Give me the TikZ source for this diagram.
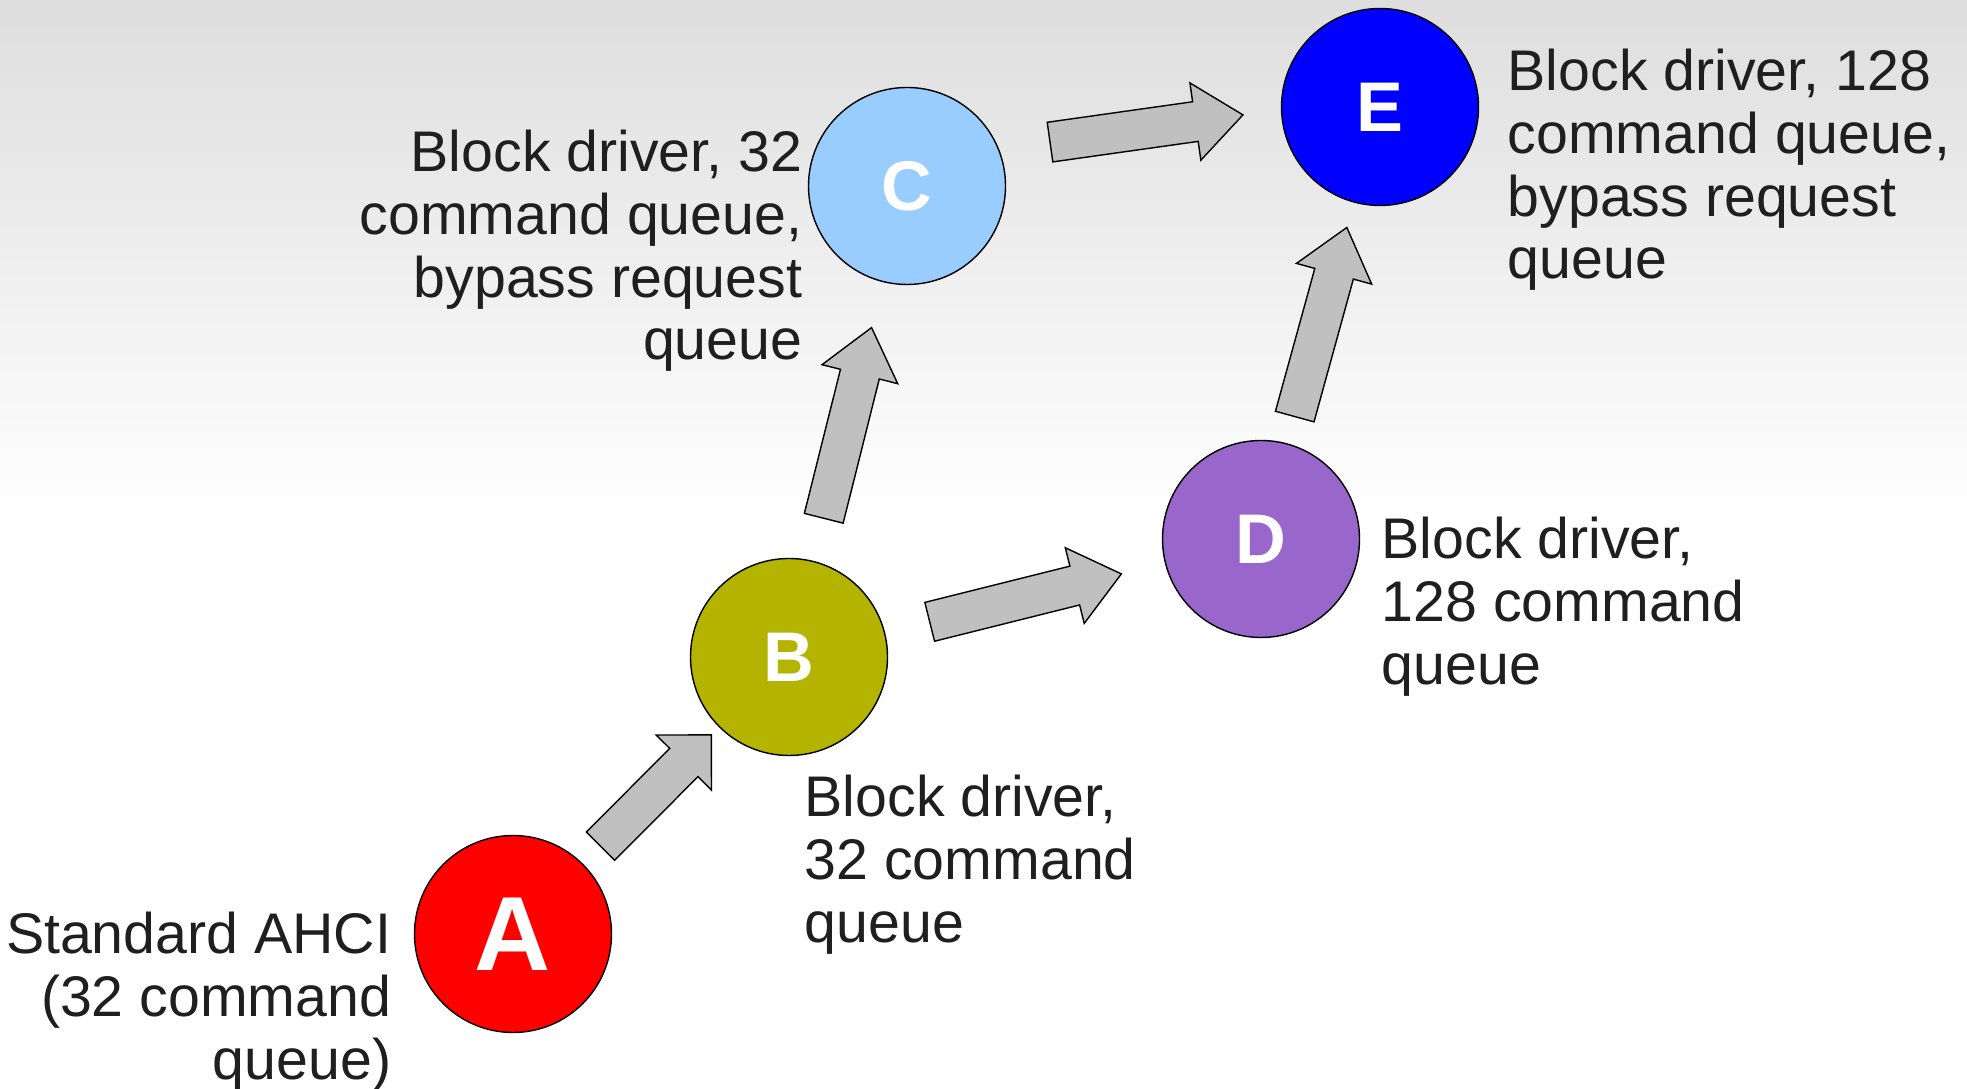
\documentclass[tikz,border=0pt]{standalone}
\usepackage{fontspec}
\setmainfont{Liberation Sans}
\usetikzlibrary{calc}

\definecolor{redA}{HTML}{FF0000}
\definecolor{oliveB}{HTML}{B3B300}
\definecolor{skyC}{HTML}{99CCFF}
\definecolor{violetD}{HTML}{9966CC}
\definecolor{blueE}{HTML}{0000FF}
\definecolor{arrowgray}{HTML}{C0C0C0}

\tikzset{
  station/.style={circle, draw=black, line width=0.4pt, minimum size=1.97cm, inner sep=0pt,
    text=white, font=\bfseries\fontsize{20}{24}\selectfont},
  caption/.style={text=black!88, inner sep=0pt, font=\fontsize{16.3}{17.9}\selectfont},
  blockarrow/.style={draw=black, line width=0.4pt, fill=arrowgray, line join=miter}
}
\def\shaftw{0.2cm}
\def\headw{0.39cm}
% fat arrow from #1 (tail) to #2 (tip), head length #3
\newcommand{\flowarrow}[3]{%
  \coordinate (h) at ($(#2)!#3!(#1)$);
  \draw[blockarrow] ($(#1)!\shaftw!90:(#2)$) -- ($(h)!\shaftw!90:(#2)$) -- ($(h)!\headw!90:(#2)$)
    -- (#2) -- ($(h)!\headw!-90:(#2)$) -- ($(h)!\shaftw!-90:(#2)$) -- ($(#1)!\shaftw!-90:(#2)$) -- cycle;
}

\begin{document}
\begin{tikzpicture}
  \useasboundingbox (0,0) rectangle (19.67,10.89);
  % background
  \shade[top color=black!13, bottom color=white] (0,5.7) rectangle (19.67,10.89);
  % stations
  \node[station, fill=redA, font=\bfseries\fontsize{30}{36}\selectfont] (a) at (5.13,1.55) {A};
  \node[station, fill=oliveB] (b) at (7.89,4.32) {B};
  \node[station, fill=skyC] (c) at (9.07,9.03) {C};
  \node[station, fill=violetD] (d) at (12.61,5.50) {D};
  \node[station, fill=blueE] (e) at (13.80,9.82) {E};
  % captions
  \node[caption, anchor=north east, align=right] (capa) at (3.92,1.78) {Standard AHCI\\(32 command\\queue)};
  \node[caption, anchor=north west, align=left] (capb) at (8.04,3.15) {Block driver,\\32 command\\queue};
  \node[caption, anchor=north east, align=right] (capc) at (8.03,9.60) {Block driver, 32\\command queue,\\bypass request\\queue};
  \node[caption, anchor=north west, align=left] (capd) at (13.81,5.73) {Block driver,\\128 command\\queue};
  \node[caption, anchor=north west, align=left] (cape) at (15.07,10.41) {Block driver, 128\\command queue,\\bypass request\\queue};
  % arrow ends
  \coordinate (ab1) at ($(a)!1.24cm!(b)$);
  \coordinate (ab2) at ($(b)!1.10cm!(a)$);
  \coordinate (bc1) at ($(b)!1.43cm!(c)$);
  \coordinate (bc2) at ($(c)!1.46cm!(b)$);
  \coordinate (bd1) at ($(b)!1.45cm!(d)$);
  \coordinate (bd2) at ($(d)!1.44cm!(b)$);
  \coordinate (ce1) at ($(c)!1.45cm!(e) + (0,0.2)$);
  \coordinate (ce2) at ($(e)!1.39cm!(c) + (0,0.15)$);
  \coordinate (de1) at ($(d)!1.27cm!(e)$);
  \coordinate (de2) at ($(e)!1.25cm!(d)$);
  % arrows
  \flowarrow{ab1}{ab2}{0.39cm}
  \flowarrow{bc1}{bc2}{0.48cm}
  \flowarrow{bd1}{bd2}{0.48cm}
  \flowarrow{ce1}{ce2}{0.48cm}
  \flowarrow{de1}{de2}{0.48cm}
\end{tikzpicture}
\end{document}
